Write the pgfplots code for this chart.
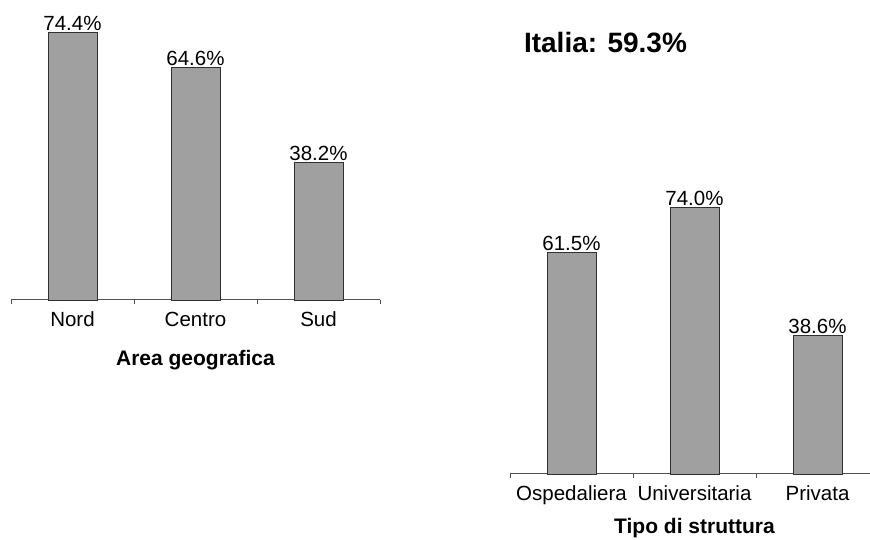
\documentclass[border=0pt]{standalone}
\usepackage{pgfplots}
\pgfplotsset{compat=1.18}
\usepackage{fontspec}
\setmainfont{Liberation Sans}
\definecolor{barfill}{HTML}{A0A0A0}
\definecolor{bardraw}{HTML}{303030}
\definecolor{axisgray}{HTML}{505050}
\newcommand{\lab}{\fontsize{20.5}{24}\selectfont}
\pgfplotsset{
  barchart/.style={
    scale only axis,
    height=300pt,
    ymin=0, ymax=83.333,
    xmin=-0.5,
    axis x line*=bottom,
    axis y line=none,
    x axis line style={-, axisgray, line width=1pt},
    xtick={0,1,2},
    major tick length=0pt,
    minor xtick={-0.5,0.5,1.5,2.5},
    minor tick length=4pt,
    tick align=outside,
    minor tick style={axisgray, line width=0.8pt},
    xticklabel style={font=\lab, anchor=base, yshift=-27pt},
    clip=false,
    ybar,
    bar width=49pt,
    bar shift=0pt,
    nodes near coords={\pgfmathprintnumber[assume math mode=true,fixed,precision=1,fixed zerofill]{\pgfplotspointmeta}\%},
    every node near coord/.append style={font=\lab, inner sep=0pt, anchor=base, yshift=2pt, text=black},
  },
}
\begin{document}
\begin{tikzpicture}
\path[use as bounding box] (0,0) rectangle (870pt,540pt);

% area geografica
\begin{axis}[barchart,
  at={(11pt,240pt)}, anchor=south west,
  width=369pt, xmax=2.5,
  xticklabels={Nord, Centro, Sud}]
\addplot[fill=barfill, draw=bardraw, line width=0.8pt] coordinates {(0,74.4) (1,64.6) (2,38.2)};
\node[font=\fontsize{21}{24}\selectfont\bfseries, anchor=base] at ([yshift=-66pt]axis description cs:0.5,0) {Area geografica};
\end{axis}

% tipo di struttura
\begin{axis}[barchart,
  at={(510pt,66pt)}, anchor=south west,
  width=360pt, xmax=2.4268,
  xticklabels={Ospedaliera, Universitaria, Privata}]
\addplot[fill=barfill, draw=bardraw, line width=0.8pt] coordinates {(0,61.5) (1,74.0) (2,38.6)};
\node[font=\fontsize{21}{24}\selectfont\bfseries, anchor=base] at ([yshift=-60pt]axis cs:1,0) {Tipo di struttura};
\end{axis}

\node[font=\fontsize{28}{32}\selectfont\bfseries, anchor=base] at (605.5pt,487pt) {Italia: 59.3\%};
\end{tikzpicture}
\end{document}
